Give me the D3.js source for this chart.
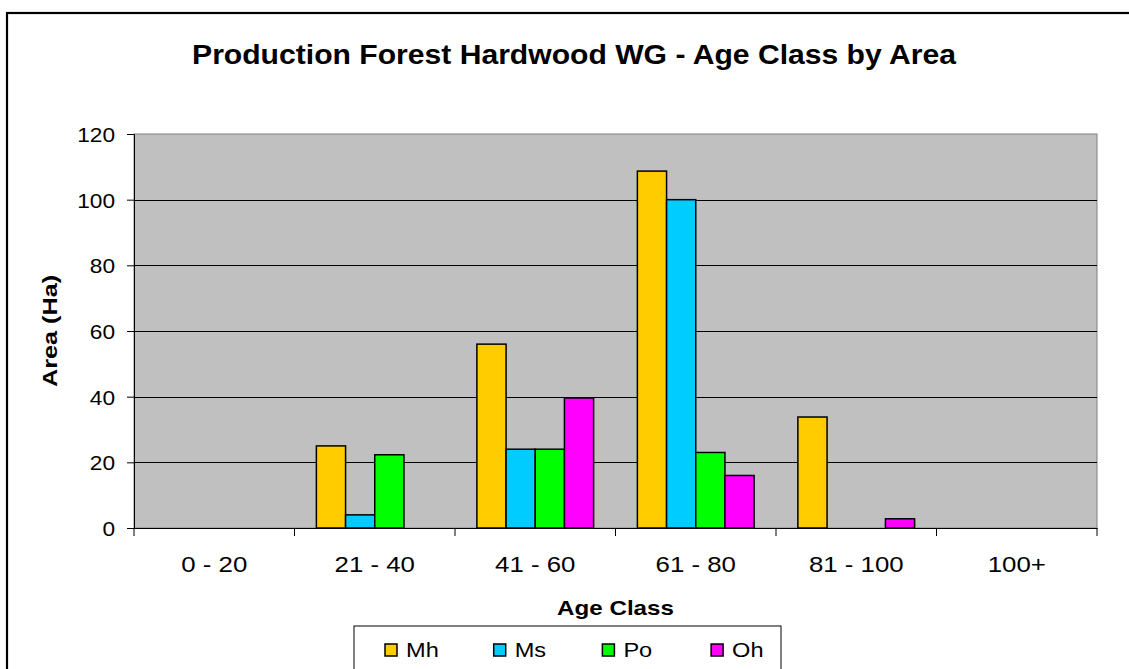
<!DOCTYPE html>
<html>
<head>
<meta charset="utf-8">
<script src="https://cdn.jsdelivr.net/npm/d3@7"></script>
<style>
  body { margin: 0; background: #fff; }
  text { font-family: 'Liberation Sans', Arial, sans-serif; fill: #000; }
</style>
</head>
<body>
<svg id="chart" width="1129" height="669"></svg>
<script>
// chart data
const categories = ['0 - 20', '21 - 40', '41 - 60', '61 - 80', '81 - 100', '100+'];
const seriesNames = ['Mh', 'Ms', 'Po', 'Oh'];
const seriesColors = ['#FFCC00', '#00CCFF', '#00FF00', '#FF00FF'];
const mhValues = [0, 25, 56, 108.7, 33.8, 0];
const msValues = [0, 4, 24, 100, 0, 0];
const poValues = [0, 22.3, 24, 23, 0, 0];
const ohValues = [0, 0, 39.6, 16, 2.8, 0];
const yTicks = [0, 20, 40, 60, 80, 100, 120];

const seriesValues = [mhValues, msValues, poValues, ohValues];

const svg = d3.select('#chart');
const plot = { left: 134, top: 134, right: 1097, bottom: 528 };

// stretch text horizontally a little, the source font renders wider
function widen(sel, k = 1.15) {
  sel.each(function () {
    const len = this.getComputedTextLength();
    d3.select(this)
      .attr('textLength', len * k)
      .attr('lengthAdjust', 'spacingAndGlyphs');
  });
}

// outer chart border
svg.append('rect')
  .attr('x', 7)
  .attr('y', 13)
  .attr('width', 1140)
  .attr('height', 700)
  .attr('fill', '#fff')
  .attr('stroke', '#000')
  .attr('stroke-width', 2.2);

const x0 = d3.scaleBand()
  .domain(categories)
  .range([plot.left, plot.right]);

const barW = x0.bandwidth() / 5.5;
const x1 = d3.scaleBand()
  .domain(seriesNames)
  .range([barW * 0.75, barW * 4.75]);

const y = d3.scaleLinear()
  .domain([0, 120])
  .range([plot.bottom, plot.top]);

// plot area
svg.append('rect')
  .attr('x', plot.left)
  .attr('y', plot.top)
  .attr('width', plot.right - plot.left)
  .attr('height', plot.bottom - plot.top)
  .attr('fill', '#C0C0C0')
  .attr('stroke', '#808080')
  .attr('stroke-width', 1);

// gridlines
svg.append('g')
  .selectAll('line')
  .data(yTicks.filter((t) => t > 0 && t < 120))
  .enter()
  .append('line')
  .attr('x1', plot.left)
  .attr('x2', plot.right)
  .attr('y1', (d) => Math.round(y(d)) + 0.5)
  .attr('y2', (d) => Math.round(y(d)) + 0.5)
  .attr('stroke', '#000')
  .attr('stroke-width', 1);

// bars
const groups = svg.append('g')
  .selectAll('g')
  .data(seriesNames)
  .enter()
  .append('g')
  .attr('fill', (d, i) => seriesColors[i]);

groups.selectAll('rect')
  .data((d, i) => seriesValues[i].map((v, j) => ({ s: d, cat: categories[j], v })))
  .enter()
  .filter((d) => d.v > 0)
  .append('rect')
  .attr('x', (d) => x0(d.cat) + x1(d.s))
  .attr('y', (d) => y(d.v))
  .attr('width', x1.bandwidth())
  .attr('height', (d) => y(0) - y(d.v))
  .attr('stroke', '#000')
  .attr('stroke-width', 1.5);

// y axis
const yAxis = svg.append('g')
  .attr('transform', `translate(${plot.left},0)`)
  .call(d3.axisLeft(y).tickValues(yTicks).tickSize(7).tickPadding(10));
yAxis.select('.domain').attr('stroke', '#000');
yAxis.selectAll('.tick line').attr('stroke', '#000');
yAxis.selectAll('.tick text')
  .attr('font-size', 21)
  .attr('font-family', "'Liberation Sans', Arial, sans-serif")
  .attr('fill', '#000')
  .attr('dy', '0.36em')
  .attr('x', -19)
  .call(widen, 1.08);

// x axis
const xAxis = svg.append('g')
  .attr('transform', `translate(0,${plot.bottom})`)
  .call(d3.axisBottom(x0).tickSize(0).tickPadding(0));
xAxis.select('.domain').attr('stroke', '#000');
xAxis.selectAll('.tick text')
  .attr('font-size', 21.5)
  .attr('font-family', "'Liberation Sans', Arial, sans-serif")
  .attr('fill', '#000')
  .attr('y', 44)
  .attr('dy', 0)
  .call(widen, 1.2);

// x category separators
svg.append('g')
  .selectAll('line')
  .data(categories.concat(['end']))
  .enter()
  .append('line')
  .attr('x1', (d, i) => plot.left + i * x0.step())
  .attr('x2', (d, i) => plot.left + i * x0.step())
  .attr('y1', plot.bottom)
  .attr('y2', plot.bottom + 8)
  .attr('stroke', '#000');

// titles
svg.append('text')
  .attr('x', 574)
  .attr('y', 64)
  .attr('text-anchor', 'middle')
  .attr('font-size', 27)
  .attr('font-weight', 'bold')
  .text('Production Forest Hardwood WG - Age Class by Area')
  .call(widen, 1.115);

svg.append('text')
  .attr('x', (plot.left + plot.right) / 2)
  .attr('y', 615)
  .attr('text-anchor', 'middle')
  .attr('font-size', 21)
  .attr('font-weight', 'bold')
  .text('Age Class')
  .call(widen);

svg.append('text')
  .attr('transform', `translate(57, ${(plot.top + plot.bottom) / 2}) rotate(-90)`)
  .attr('text-anchor', 'middle')
  .attr('font-size', 20.5)
  .attr('font-weight', 'bold')
  .text('Area (Ha)')
  .call(widen, 1.23);

// legend
const legend = svg.append('g');
legend.append('rect')
  .attr('x', 354)
  .attr('y', 626)
  .attr('width', 427)
  .attr('height', 60)
  .attr('fill', '#fff')
  .attr('stroke', '#000')
  .attr('stroke-width', 1);

const items = legend.selectAll('g')
  .data(seriesNames)
  .enter()
  .append('g')
  .attr('transform', (d, i) => `translate(${385 + i * 108.7}, 644)`);

items.append('rect')
  .attr('width', 12)
  .attr('height', 12)
  .attr('fill', (d, i) => seriesColors[i])
  .attr('stroke', '#000')
  .attr('stroke-width', 1.5);

items.append('text')
  .attr('x', 21)
  .attr('y', 13)
  .attr('font-size', 20.5)
  .text((d) => d)
  .call(widen);
</script>
</body>
</html>
